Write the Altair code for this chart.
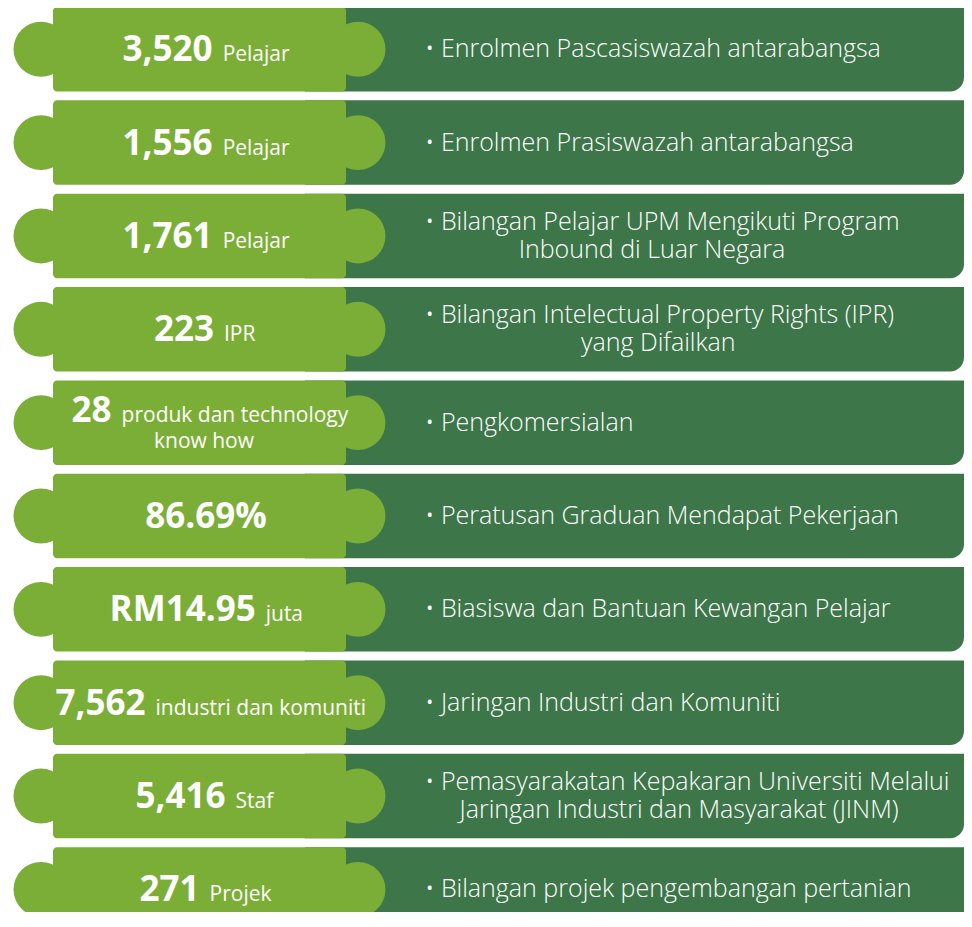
import altair as alt
import pandas as pd
import math

# ---------------- data ----------------
values = ["3,520", "1,556", "1,761", "223", "28", "86.69%", "RM14.95", "7,562", "5,416", "271"]
units = ["Pelajar", "Pelajar", "Pelajar", "IPR", "produk dan technology\nknow how", "",
         "juta", "industri dan komuniti", "Staf", "Projek"]
descriptions = [
    "• Enrolmen Pascasiswazah antarabangsa",
    "• Enrolmen Prasiswazah antarabangsa",
    "• Bilangan Pelajar UPM Mengikuti Program\nInbound di Luar Negara",
    "• Bilangan Intelectual Property Rights (IPR)\nyang Difailkan",
    "• Pengkomersialan",
    "• Peratusan Graduan Mendapat Pekerjaan",
    "• Biasiswa dan Bantuan Kewangan Pelajar",
    "• Jaringan Industri dan Komuniti",
    "• Pemasyarakatan Kepakaran Universiti Melalui\nJaringan Industri dan Masyarakat (JINM)",
    "• Bilangan projek pengembangan pertanian",
]

# ---------------- layout ----------------
W, H = 956, 904
X_DOM = [8, 8 + W]
Y_DOM = [8, 8 + H]
ROW_TOP0, ROW_STEP, ROW_H = 7, 93.35, 84.5
LEFT_X0, LEFT_X1 = 53, 346
DARK_X0, DARK_X1 = 305, 8 + W
BUMP_L_X, BUMP_R_X, BUMP_R = 41, 358, 31
CX_LEFT, DESC_X = 204, 425
NUM_SIZE, UNIT_SIZE, DESC_SIZE = 35, 21, 25
DESC_LH = 28
GAP = 10
FONT = "Open Sans"
LIGHT, DARK = "#7BAE36", "#3D7649"


def text_w(s, size, bold):
    w = 0.0
    for ch in s:
        if ch.isdigit():
            e = 0.572
        elif ch in ",.":
            e = 0.29
        elif ch == "%":
            e = 0.87
        elif ch == " ":
            e = 0.26
        elif ch in "ijlI":
            e = 0.25
        elif ch in "tfr":
            e = 0.37
        elif ch in "mwM":
            e = 0.88
        elif ch.isupper():
            e = 0.65
        else:
            e = 0.55
        w += e * size * (1.04 if bold else 1.0)
    return w


shapes, nums, unit_rows, descs = [], [], [], []
for i, (v, u, d) in enumerate(zip(values, units, descriptions)):
    top = ROW_TOP0 + i * ROW_STEP
    bot = top + ROW_H
    cy = top + ROW_H / 2
    shapes.append(dict(x0=LEFT_X0, x1=LEFT_X1, dx0=DARK_X0, dx1=DARK_X1, y0=top, y1=bot,
                       bl=BUMP_L_X, br=BUMP_R_X, cy=cy))
    # left: number + unit
    ulines = u.split("\n") if u else []
    n = max(1, len(ulines))
    lh = 26
    base = cy + 12 - (n - 1) * lh / 2
    wn = text_w(v, NUM_SIZE, True)
    wu = text_w(ulines[0], UNIT_SIZE, False) if ulines else 0
    total = wn + (GAP + wu if ulines else 0)
    start = CX_LEFT - total / 2
    split = start + wn
    nums.append(dict(x=split, y=base, t=v))
    for k, line in enumerate(ulines):
        if k == 0:
            unit_rows.append(dict(x=split + GAP, y=base, t=line, a="left"))
        else:
            unit_rows.append(dict(x=CX_LEFT, y=base + k * lh, t=line, a="center"))
    # right: description, first line left-aligned, further lines centred beneath it
    dlines = d.split("\n")
    m = len(dlines)
    w1 = text_w(dlines[0], DESC_SIZE, False) * 0.93
    for k, line in enumerate(dlines):
        yy = cy + (k - (m - 1) / 2) * DESC_LH
        if k == 0:
            descs.append(dict(x=DESC_X, y=yy, t=line, a="left"))
        else:
            descs.append(dict(x=DESC_X + w1 / 2, y=yy, t=line, a="center"))

shp = pd.DataFrame(shapes)
nd = pd.DataFrame(nums)
ud = pd.DataFrame(unit_rows)
dd = pd.DataFrame(descs)

xs = alt.Scale(domain=X_DOM, nice=False, zero=False)
ys = alt.Scale(domain=Y_DOM, nice=False, zero=False, reverse=True)


def X(f):
    return alt.X(f, type="quantitative", scale=xs, axis=None)


def Y(f):
    return alt.Y(f, type="quantitative", scale=ys, axis=None)


dark = alt.Chart(shp).mark_rect(color=DARK, cornerRadiusBottomRight=14, clip=True).encode(
    x=X("dx0"), x2="dx1", y=Y("y0"), y2="y1")
light = alt.Chart(shp).mark_rect(color=LIGHT, cornerRadius=4, clip=True).encode(
    x=X("x0"), x2="x1", y=Y("y0"), y2="y1")
bump_size = math.pi * BUMP_R ** 2
lbump = alt.Chart(shp).mark_point(shape="circle", filled=True, opacity=1, color=LIGHT,
                                  strokeWidth=0, size=bump_size, clip=True).encode(
    x=X("bl"), y=Y("cy"))
rbump = alt.Chart(shp).mark_point(shape="circle", filled=True, opacity=1, color=LIGHT,
                                  strokeWidth=0, size=bump_size, clip=True).encode(
    x=X("br"), y=Y("cy"))

num_t = alt.Chart(nd).mark_text(font=FONT, fontSize=NUM_SIZE, fontWeight="bold", color="white",
                                align="right", baseline="alphabetic").encode(
    x=X("x"), y=Y("y"), text="t:N")
unit_l = alt.Chart(ud[ud.a == "left"]).mark_text(font=FONT, fontSize=UNIT_SIZE, color="white",
                                                 align="left", baseline="alphabetic").encode(
    x=X("x"), y=Y("y"), text="t:N")
unit_c = alt.Chart(ud[ud.a == "center"]).mark_text(font=FONT, fontSize=UNIT_SIZE, color="white",
                                                   align="center", baseline="alphabetic").encode(
    x=X("x"), y=Y("y"), text="t:N")
desc_l = alt.Chart(dd[dd.a == "left"]).mark_text(font=FONT, fontSize=DESC_SIZE, fontWeight=300,
                                                 color="white", align="left",
                                                 baseline="middle").encode(
    x=X("x"), y=Y("y"), text="t:N")
desc_c = alt.Chart(dd[dd.a == "center"]).mark_text(font=FONT, fontSize=DESC_SIZE, fontWeight=300,
                                                   color="white", align="center",
                                                   baseline="middle").encode(
    x=X("x"), y=Y("y"), text="t:N")

chart = alt.layer(dark, light, lbump, rbump, num_t, unit_l, unit_c, desc_l, desc_c).properties(
    width=W, height=H, padding=0, autosize=alt.AutoSizeParams(type="none"),
    background="white"
).configure_view(stroke=None)

chart.save("out.html", embed_options={"renderer": "svg", "actions": False})
